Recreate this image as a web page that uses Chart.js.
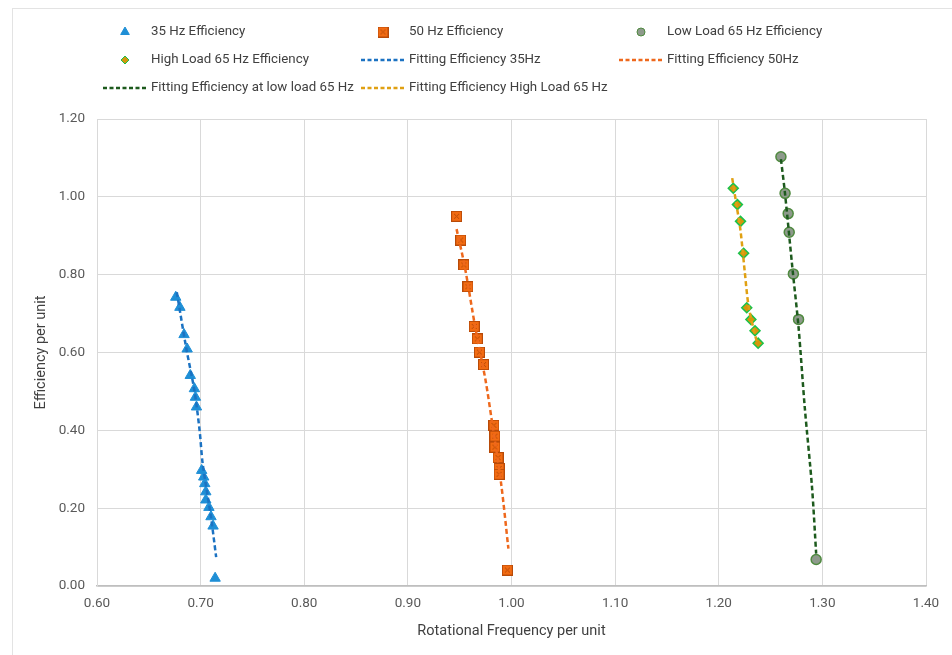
<!DOCTYPE html>
<html>
<head>
<meta charset="utf-8">
<script src="https://cdn.jsdelivr.net/npm/chart.js@4.4.0/dist/chart.umd.min.js"></script>
<style>
  body { margin: 0; background: #fff; overflow: hidden; }
  #wrap { position: relative; width: 952px; height: 655px; }
  #frame { position: absolute; left: 12px; top: 8px; width: 960px; height: 660px; border: 1px solid #e3e3e3; }
  canvas { position: absolute; left: 0; top: 0; }
</style>
</head>
<body>
<div id="wrap">
  <div id="frame"></div>
  <canvas id="effChart" width="952" height="655"></canvas>
</div>
<script>
// measured points (rotational frequency pu, efficiency pu)
var hz35X = [0.676, 0.680, 0.684, 0.687, 0.690, 0.694, 0.695, 0.696, 0.701, 0.703, 0.704, 0.705, 0.705, 0.708, 0.710, 0.712, 0.714]
var hz35Y = [0.742, 0.716, 0.646, 0.609, 0.541, 0.507, 0.485, 0.460, 0.297, 0.280, 0.263, 0.242, 0.221, 0.202, 0.178, 0.154, 0.020]

var hz50X = [0.947, 0.951, 0.954, 0.958, 0.964, 0.967, 0.969, 0.973, 0.983, 0.984, 0.984, 0.987, 0.988, 0.988, 0.996]
var hz50Y = [0.950, 0.889, 0.825, 0.769, 0.667, 0.635, 0.601, 0.569, 0.413, 0.385, 0.357, 0.330, 0.302, 0.287, 0.041]

var lowX = [1.260, 1.264, 1.267, 1.268, 1.272, 1.277, 1.294]
var lowY = [1.103, 1.009, 0.957, 0.909, 0.802, 0.685, 0.068]

var highX = [1.214, 1.218, 1.221, 1.224, 1.227, 1.231, 1.235, 1.238]
var highY = [1.022, 0.980, 0.937, 0.855, 0.715, 0.685, 0.656, 0.624]

// fitted curves
var fit35X = [0.677, 0.686, 0.694, 0.699, 0.702, 0.710, 0.715]
var fit35Y = [0.755, 0.613, 0.502, 0.400, 0.314, 0.177, 0.074]

var fit50X = [0.947, 0.955, 0.965, 0.975, 0.981, 0.990, 0.997]
var fit50Y = [0.917, 0.819, 0.665, 0.528, 0.425, 0.263, 0.096]

var fitLowX = [1.260, 1.264, 1.271, 1.277, 1.283, 1.290, 1.294]
var fitLowY = [1.097, 1.007, 0.819, 0.665, 0.459, 0.254, 0.083]

var fitHighX = [1.213, 1.217, 1.221, 1.225, 1.229, 1.237]
var fitHighY = [1.048, 0.981, 0.913, 0.810, 0.716, 0.624]

var xTicks = [0.6, 0.7, 0.8, 0.9, 1.0, 1.1, 1.2, 1.3, 1.4]
var yTicks = [0, 0.2, 0.4, 0.6, 0.8, 1.0, 1.2]

var FONT = "Roboto, sans-serif"

function pts(xs, ys) {
	var out = []
	for (var i = 0; i < xs.length; i++) out.push({x: xs[i], y: ys[i]})
	return out
}

// orange square with a cross, like the excel marker
function crossSquare() {
	var c = document.createElement('canvas')
	c.width = 11; c.height = 11
	var g = c.getContext('2d')
	g.fillStyle = '#f26b12'
	g.fillRect(0, 0, 11, 11)
	g.strokeStyle = '#b84a08'
	g.lineWidth = 1
	g.strokeRect(0.5, 0.5, 10, 10)
	g.beginPath()
	g.moveTo(3, 3); g.lineTo(8, 8)
	g.moveTo(8, 3); g.lineTo(3, 8)
	g.stroke()
	return c
}
var squareImg = crossSquare()

function scatterSet(label, data, style, radius, fill, border, bw) {
	return {
		type: 'scatter', label: label, data: data, order: 2,
		pointStyle: style, pointRadius: radius, pointHoverRadius: radius,
		backgroundColor: fill, borderColor: border, pointBorderWidth: bw, borderWidth: bw
	}
}
function fitSet(label, data, color) {
	return {
		type: 'line', label: label, data: data, order: 1,
		showLine: true, fill: false, tension: 0.3, pointRadius: 0,
		borderColor: color, backgroundColor: color, borderWidth: 2.5, borderDash: [5, 3]
	}
}

var datasets = [
	scatterSet('35 Hz Efficiency', pts(hz35X, hz35Y), 'triangle', 6, '#1f8fd6', '#1f8fd6', 1),
	scatterSet('50 Hz Efficiency', pts(hz50X, hz50Y), squareImg, 6, '#f26b12', '#b84a08', 1),
	scatterSet('Low Load 65 Hz Efficiency', pts(lowX, lowY), 'circle', 5, '#8e9a8c', '#4f8a3f', 1.5),
	scatterSet('High Load 65 Hz Efficiency', pts(highX, highY), 'rectRot', 5, '#d4960c', '#19c24a', 1.5),
	fitSet('Fitting Efficiency 35Hz', pts(fit35X, fit35Y), '#1b72c2'),
	fitSet('Fitting Efficiency 50Hz', pts(fit50X, fit50Y), '#ee681c'),
	fitSet('Fitting Efficiency at low load 65 Hz', pts(fitLowX, fitLowY), '#1d5a1d'),
	fitSet('Fitting Efficiency High Load 65 Hz', pts(fitHighX, fitHighY), '#e0a012')
]

// excel style legend: three fixed columns
var gridLegend = {
	id: 'gridLegend',
	afterDraw: function(chart, args, opts) {
		var ctx = chart.ctx
		ctx.save()
		ctx.font = opts.font
		ctx.textBaseline = 'middle'
		chart.data.datasets.forEach(function(ds, i) {
			var col = i % 3, row = Math.floor(i / 3)
			var cx = opts.cols[col], ty = opts.rows[row]
			if (ds.type === 'line') {
				ctx.save()
				ctx.strokeStyle = ds.borderColor
				ctx.lineWidth = 2.5
				ctx.setLineDash([4, 2.5])
				ctx.beginPath()
				ctx.moveTo(cx - 22, ty)
				ctx.lineTo(cx + 23, ty)
				ctx.stroke()
				ctx.restore()
			} else {
				ctx.save()
				ctx.fillStyle = ds.backgroundColor
				ctx.strokeStyle = ds.borderColor
				Chart.helpers.drawPoint(ctx, {pointStyle: ds.pointStyle, radius: ds.pointRadius - 1, rotation: 0, borderWidth: ds.pointBorderWidth}, cx, ty)
				ctx.restore()
			}
			ctx.fillStyle = '#404040'
			ctx.fillText(ds.label, cx + 26, ty)
		})
		ctx.restore()
	}
}

var ctx = document.getElementById('effChart').getContext('2d')
var myChart = new Chart(ctx, {
	data: {datasets: datasets},
	plugins: [gridLegend],
	options: {
		responsive: false,
		animation: false,
		layout: {padding: {left: 0, top: 119, right: 26, bottom: 0}},
		plugins: {
			legend: {display: false},
			tooltip: {enabled: false},
			gridLegend: {
				font: '13.3px ' + FONT,
				cols: [125, 383, 641],
				rows: [32, 60, 88]
			}
		},
		scales: {
			x: {
				type: 'linear', min: 0.6, max: 1.4,
				afterBuildTicks: function(axis) { axis.ticks = xTicks.map(function(v) { return {value: v} }) },
				ticks: {callback: function(v) { return v.toFixed(2) }, color: '#595959', font: {family: FONT, size: 13.5}, padding: 10},
				grid: {color: '#d9d9d9', drawTicks: false},
				border: {color: '#bfbfbf', width: 1.5},
				title: {display: true, text: 'Rotational Frequency per unit', color: '#404040', font: {family: FONT, size: 14.5}, padding: {top: 4, bottom: 15}},
				afterFit: function(axis) { axis.height = 69 }
			},
			y: {
				type: 'linear', min: 0, max: 1.2,
				afterBuildTicks: function(axis) { axis.ticks = yTicks.map(function(v) { return {value: v} }) },
				ticks: {callback: function(v) { return v.toFixed(2) }, color: '#595959', font: {family: FONT, size: 13.5}, padding: 12},
				grid: {color: '#d9d9d9', drawTicks: false},
				border: {color: '#d9d9d9'},
				title: {display: true, text: 'Efficiency per unit', color: '#404040', font: {family: FONT, size: 14.5}, padding: {top: 33, bottom: 0}},
				afterFit: function(axis) { axis.width = 97 }
			}
		}
	}
})
</script>
</body>
</html>
